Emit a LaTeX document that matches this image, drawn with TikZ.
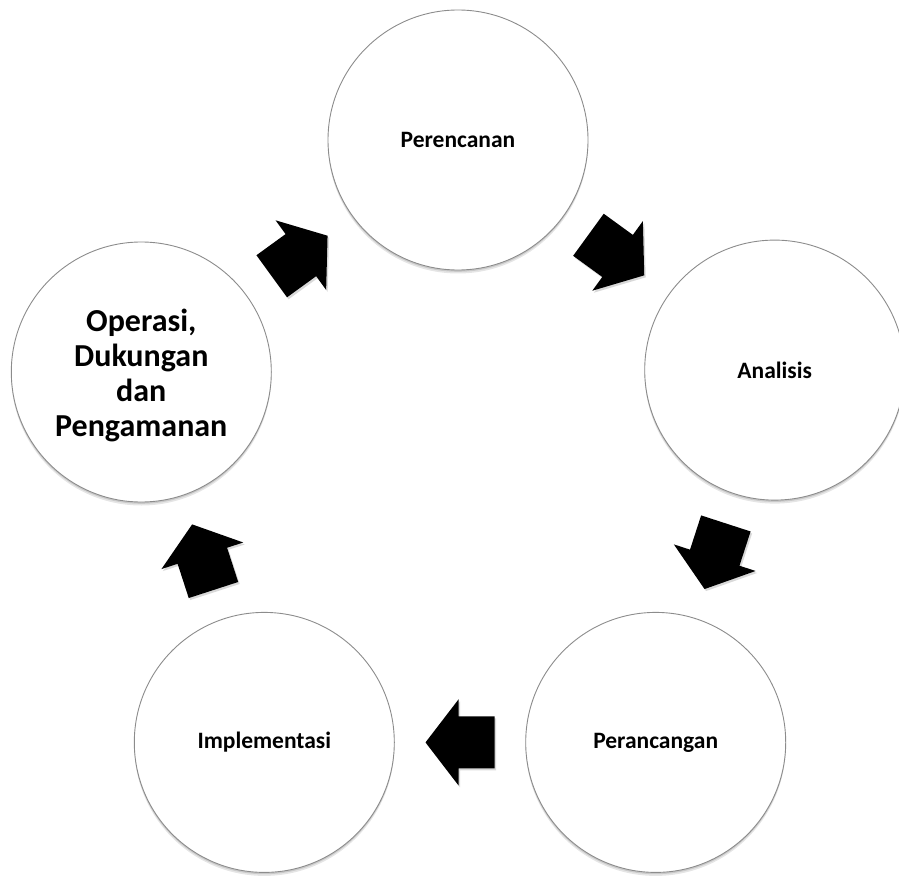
\documentclass[tikz,border=0pt]{standalone}
\usepackage{fontspec}
\setmainfont{Carlito}
\usetikzlibrary{shadows,calc}
\newcommand\cycarrow[2]{%
  \fill[arrowshadow, shift={(#1)}, shift={(1.5,2)}, rotate=#2] (-34.5,-26) -- (1.5,-26) -- (1.5,-43) -- (34.5,0) -- (1.5,43) -- (1.5,26) -- (-34.5,26) -- cycle;
  \fill[arrowbody, shift={(#1)}, rotate=#2] (-34.5,-26) -- (1.5,-26) -- (1.5,-43) -- (34.5,0) -- (1.5,43) -- (1.5,26) -- (-34.5,26) -- cycle;}
\begin{document}
\begin{tikzpicture}[x=1pt,y=-1pt,
  stage/.style={circle, draw=black!45, line width=0.9pt, fill=white,
    minimum size=260pt, inner sep=0pt, align=center,
    font=\fontsize{23.5}{28}\selectfont\bfseries,
    drop shadow={shadow xshift=0pt, shadow yshift=-3.5pt, opacity=0.10, fill=black},
    drop shadow={shadow xshift=0pt, shadow yshift=-1.8pt, opacity=0.12, fill=black}},
  bigtext/.style={font=\fontsize{32}{35}\selectfont\bfseries},
  arrowbody/.style={fill=black},
  arrowshadow/.style={fill=black, opacity=0.15}]
\useasboundingbox (0,0) rectangle (899,877);
\clip (0,0) rectangle (899,877);
\node[stage] (pe) at (458,140) {Perencanan};
\node[stage] (an) at (774.7,370.1) {Analisis};
\node[stage] (pa) at (655.7,742.4) {Perancangan};
\node[stage] (im) at (264.3,742.4) {Implementasi};
\node[stage, bigtext] (op) at (141.3,372) {};
\node[bigtext, align=center, inner sep=0pt] (optext) at (141.3,375) {Operasi,\\Dukungan\\dan\\Pengamanan};
\coordinate (m1) at ($(op)!0.5!(pe)$);
\coordinate (m2) at ($(pe)!0.5!(an)$);
\coordinate (m3) at ($(an)!0.5!(pa)$);
\coordinate (m4) at ($(pa)!0.5!(im)$);
\coordinate (m5) at ($(im)!0.5!(op)$);
\cycarrow{m1}{36}
\cycarrow{m2}{-36}
\cycarrow{m3}{-108}
\cycarrow{m4}{180}
\cycarrow{m5}{108}
\end{tikzpicture}
\end{document}
